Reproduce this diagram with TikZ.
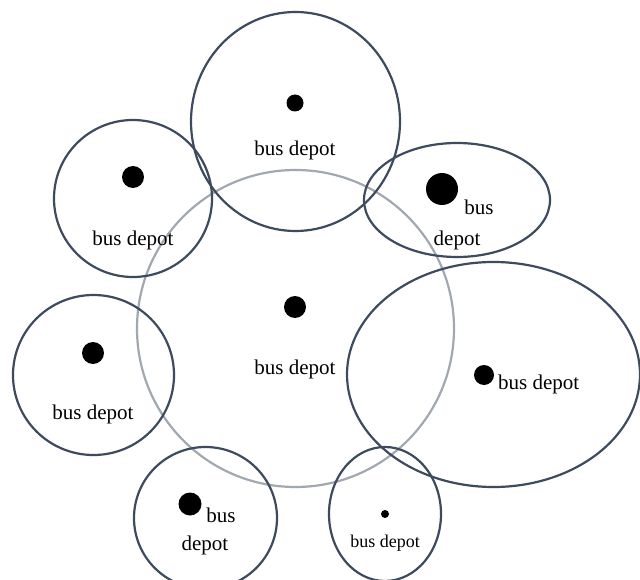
\documentclass[tikz,border=0pt]{standalone}
\usepackage{fontspec}
\setmainfont{Liberation Serif}
\definecolor{ringdark}{HTML}{3E4A5E}
\definecolor{ringgray}{HTML}{A2A8B0}
\begin{document}
\begin{tikzpicture}[x=1pt,y=-1pt,
  ring/.style={draw=ringdark,line width=2.2pt},
  ringg/.style={draw=ringgray,line width=2.2pt},
  depotdot/.style={circle,fill=black,inner sep=0pt,minimum size=#1},
  lbl/.style={font=\fontsize{21}{23}\selectfont,inner sep=0pt},
  lbls/.style={font=\fontsize{18}{20}\selectfont,inner sep=0pt}]
\useasboundingbox (0,0) rectangle (640,580);
% big gray circle
\draw[ringg] (295.5,328.5) circle [radius=158.5];
% rings
\draw[ring] (295.5,121.5) ellipse [x radius=104.5,y radius=109.5];
\draw[ring] (133,198.5) ellipse [x radius=79,y radius=78.5];
\draw[ring] (457,200) ellipse [x radius=93,y radius=57];
\draw[ring] (93.5,375) ellipse [x radius=80.5,y radius=80];
\draw[ring] (493.5,374.5) ellipse [x radius=146.5,y radius=112.5];
\draw[ring] (205.5,518) ellipse [x radius=71.5,y radius=71];
\draw[ring] (385,514) ellipse [x radius=56,y radius=67];
% dots and labels
\node[depotdot=17pt] (d1) at (295,103) {};
\node[lbl] (t1) at (295,150) {bus depot};
\node[depotdot=22pt] (d2) at (133,177) {};
\node[lbl] (t2) at (133,240) {bus depot};
\node[depotdot=32pt] (d3) at (442,189) {};
\node[lbl] (t3a) at (479,207) {bus};
\node[lbl] (t3b) at (457,240) {depot};
\node[depotdot=22pt] (d4) at (93,353) {};
\node[lbl] (t4) at (93,414) {bus depot};
\node[depotdot=22pt] (d5) at (295,307) {};
\node[lbl] (t5) at (295,369) {bus depot};
\node[depotdot=20pt] (d6) at (484,375) {};
\node[lbl,anchor=west] (t6) at (498,384) {bus depot};
\node[depotdot=23pt] (d7) at (190,504) {};
\node[lbl] (t7a) at (221,515) {bus};
\node[lbl] (t7b) at (205,545) {depot};
\node[depotdot=8pt] (d8) at (385,514) {};
\node[lbls] (t8) at (385,543) {bus depot};
\end{tikzpicture}
\end{document}
